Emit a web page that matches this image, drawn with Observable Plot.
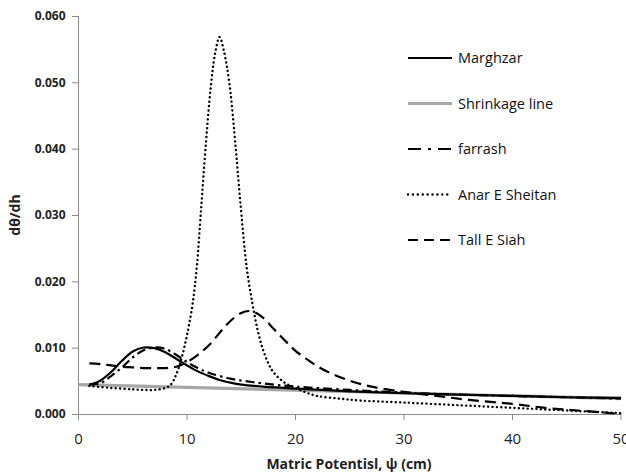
<!DOCTYPE html>
<html><head><meta charset="utf-8">
<script src="https://cdn.jsdelivr.net/npm/d3@7"></script>
<script src="https://cdn.jsdelivr.net/npm/@observablehq/plot@0.6"></script>
<style>body{margin:0;background:#fff}</style>
</head><body>
<script>
const xTicks = [0, 10, 20, 30, 40, 50];
const yTicks = [0, 0.01, 0.02, 0.03, 0.04, 0.05, 0.06];

const marghzarX = [1,2,3,4,5,6,7,8,9,10,11,12,13,14,15,17,20,25,30,35,40,45,50];
const marghzarY = [0.0045,0.0051,0.0064,0.0081,0.0095,0.0101,0.0100,0.0094,0.0084,0.0074,0.0065,0.0058,0.0052,0.0048,0.0045,0.0042,0.0039,0.0035,0.0032,0.0030,0.0028,0.0026,0.0025];

const shrinkX = [0, 50];
const shrinkY = [0.0045, 0.0024];

const farrashX = [1,2,3,4,5,6,7,8,9,10,11,12,14,16,18,20,25,30,35,40,45,50];
const farrashY = [0.0045,0.0047,0.0058,0.0071,0.0086,0.0097,0.0101,0.0099,0.0090,0.0079,0.0070,0.0063,0.0054,0.0049,0.0045,0.0042,0.0037,0.0033,0.0030,0.0028,0.0026,0.0024];

const anarX = [1,3,5,6,7,8,8.5,9,9.5,10,10.5,10.9,11.3,11.7,12.2,12.6,13,13.4,13.9,14.5,14.9,15.5,16,16.5,17,17.5,18,19,20,21,22,24,26,30,35,40,45,50];
const anarY = [0.0043,0.0040,0.0038,0.0037,0.0037,0.0040,0.0045,0.0060,0.0085,0.0120,0.0165,0.0222,0.0310,0.0400,0.0495,0.0545,0.0569,0.0548,0.0500,0.0400,0.0323,0.0222,0.0170,0.0128,0.0098,0.0077,0.0063,0.0048,0.0040,0.0033,0.0028,0.0024,0.0021,0.0018,0.0014,0.0010,0.0006,0.0002];

const tallX = [1,2,3,4,5,6,7,8,9,10,11,12,13,14,15,15.7,16.5,17,18,19,20,21,22,23,24,25,27,30,33,36,40,43,46,50];
const tallY = [0.0077,0.0076,0.0074,0.0072,0.0071,0.0070,0.0070,0.0070,0.0072,0.0079,0.0090,0.0104,0.0123,0.0141,0.0153,0.0156,0.0152,0.0146,0.0129,0.0112,0.0096,0.0084,0.0073,0.0064,0.0057,0.0051,0.0042,0.0034,0.0028,0.0022,0.0016,0.0010,0.0006,0.0001];

const seriesNames = ["Marghzar", "Shrinkage line", "farrash", "Anar E Sheitan", "Tall E Siah"];

const toRows = (xs, ys) => xs.map((x, i) => ({x, y: ys[i]}));
const marghzar = toRows(marghzarX, marghzarY);
const shrink = toRows(shrinkX, shrinkY);
const farrash = toRows(farrashX, farrashY);
const anar = toRows(anarX, anarY);
const tall = toRows(tallX, tallY);

const styles = [
  {stroke: "#000", strokeWidth: 2.2, dash: null, cap: "butt", legendDash: null},
  {stroke: "#a6a6a6", strokeWidth: 3.2, dash: null, cap: "butt", legendDash: null},
  {stroke: "#000", strokeWidth: 2.2, dash: "9,4,2.5,4", cap: "butt", legendDash: "13,7,3,7"},
  {stroke: "#000", strokeWidth: 2.4, dash: "0.1,4.3", cap: "round", legendDash: "0.1,4.8"},
  {stroke: "#000", strokeWidth: 2.2, dash: "11,6", cap: "butt", legendDash: "10,6"}
];

const lineMark = (data, s) => Plot.line(data, {
  x: "x", y: "y", stroke: s.stroke, strokeWidth: s.strokeWidth,
  strokeDasharray: s.dash, strokeLinecap: s.cap, curve: "catmull-rom"
});

const svg = Plot.plot({
  width: 626,
  height: 474,
  marginLeft: 78,
  marginRight: 5.5,
  marginTop: 16,
  marginBottom: 60,
  style: {fontFamily: "'Open Sans', sans-serif", background: "#fff", overflow: "visible"},
  x: {domain: [0, 50]},
  y: {domain: [0, 0.06]},
  marks: [
    Plot.axisX({ticks: xTicks, tickSize: 6, tickPadding: 13, stroke: "#8c8c8c", fill: "#222", fontSize: 15, label: null}),
    Plot.axisY({ticks: yTicks, tickSize: 6, tickPadding: 7, stroke: "#8c8c8c", fill: "#222", fontSize: 12, fontWeight: "bold", tickFormat: d3.format(".3f"), label: null}),
    Plot.ruleX([0], {stroke: "#8c8c8c"}),
    Plot.ruleY([0], {stroke: "#8c8c8c"}),
    lineMark(shrink, styles[1]),
    lineMark(marghzar, styles[0]),
    lineMark(farrash, styles[2]),
    lineMark(anar, styles[3]),
    lineMark(tall, styles[4])
  ]
});

const s = d3.select(svg);
s.append("text")
  .attr("x", 349).attr("y", 469)
  .attr("text-anchor", "middle")
  .attr("font-size", 14).attr("font-weight", "bold").attr("fill", "#222")
  .text("Matric Potentisl, ψ (cm)");
s.append("text")
  .attr("transform", "translate(20,215) rotate(-90)")
  .attr("text-anchor", "middle")
  .attr("font-size", 14).attr("font-weight", "bold").attr("fill", "#222")
  .text("dθ/dh");

const leg = s.append("g").attr("text-anchor", "start");
seriesNames.forEach((name, i) => {
  const st = styles[i];
  const yy = 58 + i * 45.5;
  leg.append("line")
    .attr("x1", 408).attr("x2", 452).attr("y1", yy).attr("y2", yy)
    .attr("stroke", st.stroke).attr("stroke-width", st.strokeWidth)
    .attr("stroke-linecap", st.cap)
    .attr("stroke-dasharray", st.legendDash);
  leg.append("text")
    .attr("x", 458).attr("y", yy).attr("dy", "0.35em")
    .attr("text-anchor", "start")
    .attr("font-size", 14.5).attr("fill", "#111")
    .text(name);
});

document.body.appendChild(svg);
</script>
</body></html>
